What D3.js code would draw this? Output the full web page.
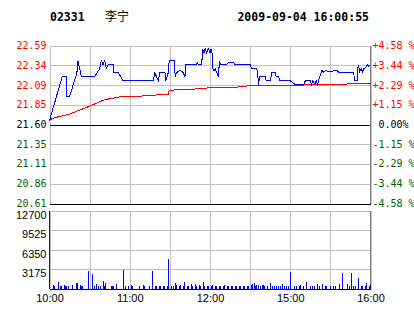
<!DOCTYPE html>
<html>
<head>
<meta charset="utf-8">
<script src="https://cdn.jsdelivr.net/npm/d3@7"></script>
<style>
body { margin: 0; background: #fff; }
svg { display: block; }
.mono { font-family: "DejaVu Sans Mono", monospace; }
</style>
</head>
<body>
<svg id="chart" width="414" height="314"></svg>
<script>
// header
var stockCode = '02331',
    stockName = '李宁',
    stamp = '2009-09-04 16:00:55';

// axis values and labels
var prevClose = 21.60;
var priceTicks = [22.59, 22.34, 22.09, 21.85, 21.60, 21.35, 21.11, 20.86, 20.61];
var pctLabels = ['+4.58 %', '+3.44 %', '+2.29 %', '+1.15 %', ' 0.00%', '-1.15 %', '-2.29 %', '-3.44 %', '-4.58 %'];
var volTicks = [12700, 9525, 6350, 3175];
var timeTicks = [0, 30, 60, 90, 120, 150, 180, 210, 240];   // minutes of trading since 10:00
var timeLabels = ['10:00', '', '11:00', '', '12:00', '', '15:00', '', '16:00'];

// [minute, price] last price
var lastPrice = [
    [0, 21.65], [9.5, 22.20], [12.5, 22.20], [13, 21.95], [15, 21.95], [20.5, 22.25], [21.3, 22.40],
    [23.8, 22.20], [33.8, 22.20], [37.5, 22.30], [38.8, 22.40], [40, 22.35], [41.3, 22.40], [42.5, 22.30],
    [43.8, 22.35], [47.5, 22.35], [48, 22.25], [51.3, 22.25], [52.5, 22.22], [55, 22.15], [77.5, 22.15],
    [78.8, 22.25], [80, 22.20], [81.3, 22.15], [82.5, 22.25], [86.3, 22.25], [87, 22.15], [88.8, 22.25],
    [89.5, 22.40], [93.3, 22.40], [94, 22.20], [95, 22.25], [97.5, 22.28], [100, 22.25], [101.3, 22.20],
    [102, 22.35], [110, 22.35], [110.5, 22.38], [111.3, 22.35], [113.8, 22.35], [114.5, 22.55], [115.5, 22.50],
    [116.3, 22.55], [117.5, 22.50], [118.8, 22.55], [120, 22.50], [120.8, 22.55], [121.5, 22.50], [122, 22.30],
    [123, 22.27], [123.8, 22.30], [125, 22.25], [126.3, 22.20], [127, 22.38], [128, 22.35], [132.5, 22.35],
    [133.8, 22.38], [137.5, 22.38], [138.8, 22.35], [150, 22.35], [151.3, 22.30], [155, 22.30], [155.8, 22.20],
    [156.3, 22.10], [157, 22.20], [161.3, 22.20], [162, 22.15], [165, 22.15], [166.3, 22.25], [168.8, 22.25],
    [169.5, 22.20], [171.3, 22.20], [172, 22.15], [180, 22.15], [181.3, 22.13], [183.8, 22.10], [190, 22.10],
    [191.3, 22.15], [195, 22.15], [195.8, 22.10], [197, 22.15], [198.3, 22.10], [199.5, 22.15], [200.5, 22.10],
    [202, 22.20], [203.8, 22.28], [205, 22.25], [206.3, 22.28], [208.8, 22.26], [211.3, 22.26], [212.5, 22.28],
    [215, 22.28], [216.3, 22.25], [227.5, 22.25], [228, 22.15], [230, 22.15], [230.8, 22.35], [232, 22.26],
    [233, 22.30], [234, 22.26], [235, 22.30], [236.3, 22.31], [237.5, 22.35], [238.8, 22.33], [240, 22.35]
];

// [minute, price] average price
var avgPrice = [
    [0, 21.66], [5, 21.69], [15, 21.73], [30, 21.83], [41, 21.91], [54, 21.95], [75, 21.96], [84, 21.98],
    [89, 21.98], [89.5, 22.03], [105, 22.04], [120, 22.06], [141, 22.07], [142, 22.08], [167, 22.09],
    [215, 22.10], [225, 22.11], [240, 22.12]
];

// [minute, volume]
var volume = [
    [0, 12700], [3, 500], [4, 330], [7, 1050], [8, 380], [9, 380], [11, 500], [12, 380], [13, 330], [14, 380],
    [17, 500], [20, 880], [21, 880], [23, 500], [24, 330], [25, 330], [29, 2860], [32, 2420], [34, 330],
    [35, 660], [37, 440], [38, 380], [40, 1210], [41, 330], [42, 880], [46, 330], [47, 330], [48, 440],
    [50, 660], [55, 3025], [57, 380], [59, 380], [61, 550], [62, 330], [67, 330], [70, 550], [71, 330],
    [75, 330], [77, 2860], [79, 330], [80, 440], [82, 440], [83, 330], [85, 440], [86, 440], [88, 330],
    [89, 4840], [91, 330], [93, 380], [94, 880], [95, 500], [97, 380], [98, 500], [100, 440], [101, 1050],
    [103, 380], [104, 380], [106, 660], [107, 440], [109, 770], [110, 440], [112, 500], [113, 330], [115, 1050],
    [116, 380], [118, 330], [119, 380], [121, 330], [122, 500], [124, 440], [125, 330], [127, 330], [128, 330],
    [130, 330], [131, 500], [133, 330], [134, 330], [136, 330], [137, 330], [139, 330], [140, 330], [142, 330],
    [143, 330], [145, 330], [146, 330], [148, 330], [149, 440], [151, 500], [152, 660], [153, 880], [154, 440],
    [155, 500], [156, 550], [158, 440], [159, 550], [160, 500], [161, 330], [163, 330], [165, 880], [167, 440],
    [168, 330], [170, 380], [171, 330], [173, 440], [174, 660], [176, 330], [177, 330], [179, 330], [180, 2695],
    [183, 440], [185, 440], [187, 330], [188, 500], [190, 330], [192, 1050], [195, 440], [197, 330], [198, 330],
    [200, 660], [202, 330], [204, 660], [206, 330], [207, 330], [210, 440], [212, 440], [214, 330], [217, 715],
    [219, 2530], [223, 660], [224, 330], [226, 2530], [227, 330], [229, 330], [231, 1705], [233, 330],
    [234, 440], [236, 330], [237, 880], [239, 440], [240, 550]
];

var RED = '#ff0000', GREEN = '#006400', GRID = '#c0c0c0';

var svg = d3.select('#chart');

var x = d3.scaleLinear().domain([0, 240]).range([49.5, 370.5]);
var y = d3.scaleLinear().domain([20.61, 22.59]).range([203.5, 45.5]);
var yVol = d3.scaleLinear().domain([0, 12700]).range([288.5, 210.5]);

var colorFor = function(i) {
    return i < 4 ? RED : (i === 4 ? '#000' : GREEN);
};

// title
var title = svg.append('g').attr('class', 'mono').style('font-weight', 'bold').style('font-size', '11.5px');
title.append('text').attr('x', 50).attr('y', 21).text(stockCode);
title.append('text').attr('x', 369).attr('y', 21).attr('text-anchor', 'end').text(stamp);
svg.append('text').attr('x', 105).attr('y', 21)
    .style('font-family', '"Noto Sans CJK SC"').style('font-size', '12px')
    .text(stockName);

// vertical grid, both panels
var vGrid = function(top, bottom) {
    svg.append('g')
        .attr('transform', 'translate(0,' + bottom + ')')
        .call(d3.axisBottom(x).tickValues(timeTicks).tickSize(-(bottom - top)).tickFormat(''))
        .call(function(g) {
            g.select('.domain').remove();
            g.selectAll('line').attr('stroke', GRID).attr('shape-rendering', 'crispEdges');
        });
};
vGrid(45.5, 203.5);
vGrid(210.5, 288.5);

// price axis left + horizontal grid
svg.append('g')
    .attr('transform', 'translate(' + x(0) + ',0)')
    .call(d3.axisLeft(y).tickValues(priceTicks).tickSize(-(x(240) - x(0))).tickPadding(3)
        .tickFormat(function(d, i) { return priceTicks[i].toFixed(2); }))
    .call(function(g) {
        g.select('.domain').remove();
        g.attr('font-family', null).attr('font-size', null);
        g.selectAll('line').attr('stroke', function(d) {
            return (d === prevClose || d === 20.61) ? '#000' : GRID;
        }).attr('shape-rendering', 'crispEdges');
        g.selectAll('text').attr('class', 'mono').style('font-size', '10px')
            .attr('fill', function(d, i) { return colorFor(i); });
    });

// percent axis right
svg.append('g')
    .attr('transform', 'translate(' + x(240) + ',0)')
    .call(d3.axisRight(y).tickValues(priceTicks).tickSize(0).tickPadding(2)
        .tickFormat(function(d, i) { return pctLabels[i]; }))
    .call(function(g) {
        g.select('.domain').remove();
        g.attr('font-family', null).attr('font-size', null);
        g.selectAll('text').attr('class', 'mono').style('font-size', '10px').style('white-space', 'pre')
            .attr('fill', function(d, i) { return colorFor(i); });
    });

// volume axis left + grid
svg.append('g')
    .attr('transform', 'translate(' + x(0) + ',0)')
    .call(d3.axisLeft(yVol).tickValues(volTicks).tickSize(-(x(240) - x(0))).tickPadding(3)
        .tickFormat(function(d) { return d; }))
    .call(function(g) {
        g.select('.domain').remove();
        g.attr('font-family', null).attr('font-size', null);
        g.selectAll('line').attr('stroke', GRID).attr('shape-rendering', 'crispEdges');
        g.selectAll('text').attr('dy', '0.7em')
            .style('font-family', '"Liberation Sans", Arial, sans-serif').style('font-size', '11px')
            .attr('fill', '#000');
    });

// time axis
svg.append('g')
    .attr('transform', 'translate(0,' + yVol(0) + ')')
    .call(d3.axisBottom(x).tickValues(timeTicks).tickSize(0).tickPadding(6)
        .tickFormat(function(d, i) { return timeLabels[i]; }))
    .call(function(g) {
        g.select('.domain').attr('stroke', '#000').attr('shape-rendering', 'crispEdges');
        g.attr('font-family', null).attr('font-size', null);
        g.selectAll('text').style('font-family', '"Liberation Sans", Arial, sans-serif').style('font-size', '11px')
            .attr('fill', '#000');
    });

// right borders
[[45.5, 203.5], [210.5, 288.5]].forEach(function(r) {
    svg.append('line')
        .attr('x1', x(240)).attr('x2', x(240)).attr('y1', r[0]).attr('y2', r[1])
        .attr('stroke', '#808080').attr('shape-rendering', 'crispEdges');
});

// volume bars
svg.append('g').selectAll('rect')
    .data(volume)
    .enter().append('rect')
    .attr('x', function(d) { return x(d[0]) - 0.5; })
    .attr('width', 1)
    .attr('y', function(d) { return yVol(d[1]); })
    .attr('height', function(d) { return yVol(0) - yVol(d[1]); })
    .attr('fill', '#0000ff')
    .attr('shape-rendering', 'crispEdges');

// price lines
var line = d3.line()
    .x(function(d) { return x(d[0]); })
    .y(function(d) { return y(d[1]); });

svg.append('path').attr('d', line(avgPrice))
    .attr('fill', 'none').attr('stroke', RED).attr('stroke-width', 1)
    .attr('shape-rendering', 'crispEdges');
svg.append('path').attr('d', line(lastPrice))
    .attr('fill', 'none').attr('stroke', '#0000ff').attr('stroke-width', 1)
    .attr('shape-rendering', 'crispEdges');
</script>
</body>
</html>
